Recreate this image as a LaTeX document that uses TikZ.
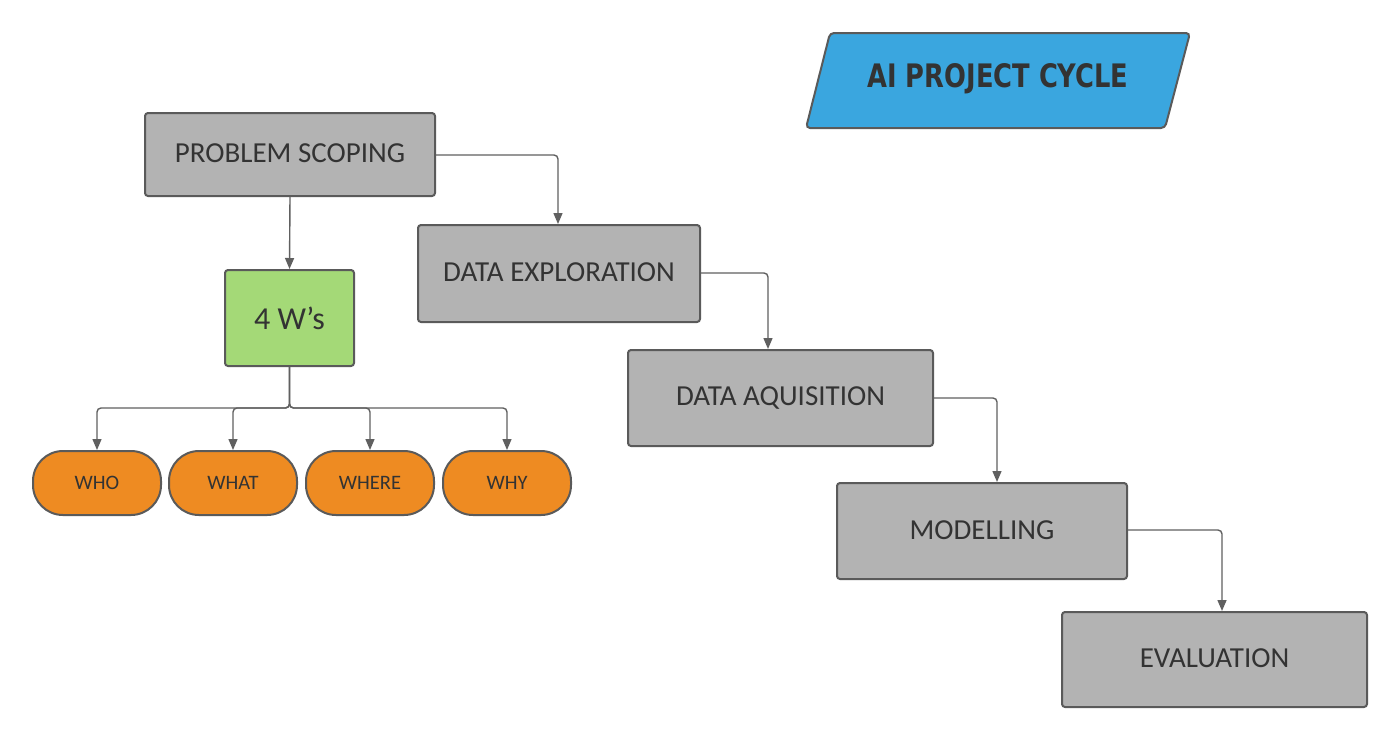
\documentclass[tikz,border=0pt]{standalone}
\usepackage{fontspec}
\setmainfont{Carlito}
\newfontfamily\titlefont{DejaVu Sans Condensed}
\usetikzlibrary{arrows.meta}
\definecolor{boxgray}{HTML}{B3B3B3}
\definecolor{edgegray}{HTML}{5A5A5A}
\definecolor{linegray}{HTML}{606060}
\definecolor{wgreen}{HTML}{A4D977}
\definecolor{worange}{HTML}{EE8B22}
\definecolor{tblue}{HTML}{3AA6DF}
\definecolor{txt}{HTML}{333333}
\tikzset{
  stagebox/.style={draw=edgegray, line width=2pt, fill=boxgray, rounded corners=3pt,
    text=txt, font=\fontsize{29}{32}\selectfont, inner sep=0pt},
  wbox/.style={draw=edgegray, line width=2pt, fill=wgreen, rounded corners=3pt,
    text=txt, font=\fontsize{32}{35}\selectfont, inner sep=0pt,
    minimum width=129pt, minimum height=96pt},
  pill/.style={draw=edgegray, line width=2pt, fill=worange, rounded corners=30pt,
    text=txt, font=\fontsize{20.5}{24}\selectfont, inner sep=0pt,
    minimum width=128pt, minimum height=64pt},
  conn/.style={draw=linegray, line width=1.4pt, rounded corners=4pt,
    -{Triangle[width=9pt,length=11pt]}},
}
\begin{document}
\begin{tikzpicture}[x=1pt,y=-1pt]
\useasboundingbox (0,0) rectangle (1400,740);
% title
\draw[draw=edgegray, line width=2pt, fill=tblue, rounded corners=4pt]
  (830,33) -- (1190,33) -- (1165,128) -- (806,128) -- cycle;
\node[text=txt, inner sep=0pt] (title) at (998,79)
  {\resizebox{261pt}{24pt}{\titlefont\bfseries AI PROJECT CYCLE}};
% stages
\node[stagebox, minimum width=290pt, minimum height=83pt] (ps) at (290,154.5) {\raisebox{2pt}{PROBLEM SCOPING}};
\node[stagebox, minimum width=282pt, minimum height=97pt] (de) at (559,273.5) {\raisebox{2pt}{DATA EXPLORATION}};
\node[stagebox, minimum width=305pt, minimum height=96pt] (da) at (780.5,398) {\raisebox{2pt}{DATA AQUISITION}};
\node[stagebox, minimum width=290pt, minimum height=96pt] (mo) at (982,531) {\raisebox{2pt}{MODELLING}};
\node[stagebox, minimum width=305pt, minimum height=95pt] (ev) at (1214.5,659.5) {\raisebox{2pt}{EVALUATION}};
% 4 W's
\node[wbox] (w4) at (289.5,318) {4 W's};
\node[pill] (who) at (97,483) {WHO};
\node[pill] (what) at (233,483) {WHAT};
\node[pill] (where) at (370,483) {WHERE};
\node[pill] (why) at (507,483) {WHY};
% connectors
\draw[conn] (ps.east |- 0,155) -| (de.north -| 558,0);
\draw[conn] (de.east |- 0,273) -| (da.north -| 768,0);
\draw[conn] (da.east |- 0,398) -| (mo.north -| 997,0);
\draw[conn] (mo.east |- 0,530) -| (ev.north -| 1222,0);
\draw[conn] (ps.south) -- (w4.north);
\coordinate (jn) at (289.5,408);
\foreach \t in {who,what,where,why}{
  \draw[conn] (w4.south) -- (jn) -| (\t.north);
}
\end{tikzpicture}
\end{document}
